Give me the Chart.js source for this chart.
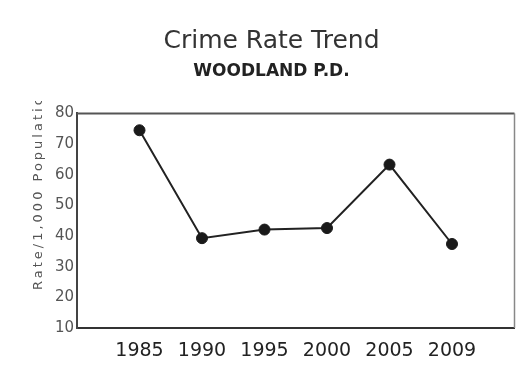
<!DOCTYPE html>
<html>
<head>
<meta charset="utf-8">
<script src="https://cdn.jsdelivr.net/npm/chart.js@4/dist/chart.umd.min.js"></script>
<style>
  html, body { margin: 0; padding: 0; background: #fff; }
  canvas { display: block; }
</style>
</head>
<body>
<canvas id="c" width="521" height="374"></canvas>
<script>
const titleText = 'Crime Rate Trend';
const subtitleText = 'WOODLAND P.D.';
const yAxisTitle = 'Rate/1,000 Population';
const years = ['1985', '1990', '1995', '2000', '2005', '2009'];
const crimeRate = [74.5, 39.3, 42.1, 42.6, 63.3, 37.4];
const yTicks = [10, 20, 30, 40, 50, 60, 70, 80];

const labels = [''].concat(years, ['']);
const values = [null].concat(crimeRate, [null]);

const framePlugin = {
  id: 'frame',
  afterDraw(chart) {
    const ctx = chart.ctx;
    const a = chart.chartArea;
    ctx.save();
    ctx.strokeStyle = '#555';
    ctx.lineWidth = 2;
    ctx.beginPath();
    ctx.moveTo(a.left, a.top);
    ctx.lineTo(a.right, a.top);
    ctx.stroke();
    ctx.strokeStyle = '#888';
    ctx.lineWidth = 1.5;
    ctx.beginPath();
    ctx.moveTo(a.right, a.top);
    ctx.lineTo(a.right, a.bottom);
    ctx.stroke();
    ctx.beginPath();
    ctx.rect(0, 101, 70, 260);
    ctx.clip();
    ctx.translate(39, 290);
    ctx.rotate(-Math.PI / 2);
    ctx.font = '13px "DejaVu Sans"';
    ctx.fillStyle = '#555';
    ctx.textAlign = 'left';
    ctx.textBaseline = 'middle';
    try { ctx.letterSpacing = '3px'; } catch (e) {}
    ctx.fillText(yAxisTitle, 0, 0);
    ctx.restore();
  }
};

new Chart(document.getElementById('c'), {
  type: 'line',
  data: {
    labels: labels,
    datasets: [{
      data: values,
      borderColor: '#222',
      borderWidth: 2,
      backgroundColor: '#1a1a1a',
      pointBackgroundColor: '#1a1a1a',
      pointBorderColor: '#1a1a1a',
      pointRadius: 5.5,
      pointBorderWidth: 1,
      tension: 0,
      fill: false
    }]
  },
  options: {
    responsive: false,
    animation: false,
    layout: { padding: { top: 0, left: 23, right: 1, bottom: 0 } },
    plugins: {
      legend: { display: false },
      tooltip: { enabled: false },
      title: {
        display: true,
        text: titleText,
        color: '#333',
        font: { family: '"DejaVu Sans"', size: 25, weight: 'normal' },
        padding: { top: 26, bottom: 5 }
      },
      subtitle: {
        display: true,
        text: subtitleText,
        color: '#222',
        font: { family: '"DejaVu Sans"', size: 17, weight: 'bold' },
        padding: { top: 0, bottom: 32 }
      }
    },
    scales: {
      x: {
        type: 'category',
        offset: false,
        grid: { display: false, drawTicks: false },
        border: { display: true, color: '#333', width: 2 },
        ticks: {
          autoSkip: false,
          maxRotation: 0,
          padding: 12,
          color: '#222',
          font: { family: '"DejaVu Sans"', size: 19 }
        },
        afterFit(scale) { scale.height = 46; scale.paddingLeft = 0; scale.paddingRight = 0; }
      },
      y: {
        min: 10,
        max: 80,
        afterBuildTicks(scale) { scale.ticks = yTicks.map(v => ({ value: v })); },
        grid: { display: false, drawTicks: false },
        border: { display: true, color: '#444', width: 2 },
        ticks: {
          padding: 3,
          color: '#555',
          font: { family: '"DejaVu Sans"', size: 15 }
        },
        afterFit(scale) { scale.width = 54; }
      }
    }
  },
  plugins: [framePlugin]
});
</script>
</body>
</html>
